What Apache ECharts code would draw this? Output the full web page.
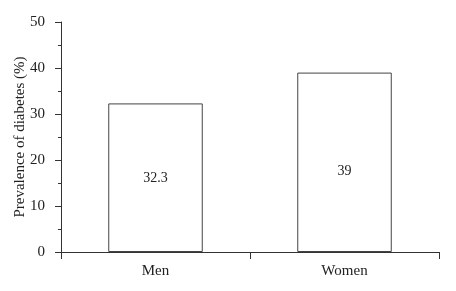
<!DOCTYPE html>
<html><head><meta charset="utf-8">
<script src="https://cdn.jsdelivr.net/npm/echarts@6/dist/echarts.min.js"></script>
<style>html,body{margin:0;padding:0;background:#fff}#c{width:456px;height:291px}</style>
</head><body><div id="c"></div>
<script>
const categories = ["Men", "Women"];
const prevalence = [32.3, 39];
const valueLabels = ["32.3", "39"];
const yTicks = [0, 10, 20, 30, 40, 50];

const labelOffsets = [[0, 1], [0, 9]];
const F = "Liberation Serif";
const chart = echarts.init(document.getElementById('c'), null, {renderer: 'canvas'});
chart.setOption({
  animation: false,
  backgroundColor: '#fff',
  grid: {left: 61, right: 17, top: 22, bottom: 39, containLabel: false, outerBoundsMode: 'none'},
  xAxis: {
    type: 'category', data: categories, boundaryGap: true,
    axisLine: {lineStyle: {color: '#333', width: 1}},
    axisTick: {show: true, length: 7, inside: false, alignWithLabel: false, lineStyle: {color: '#333'}},
    axisLabel: {color: '#222', fontFamily: F, fontSize: 15, margin: 12}
  },
  yAxis: {
    type: 'value', min: yTicks[0], max: yTicks[yTicks.length - 1], interval: 10,
    name: 'Prevalence of diabetes (%)', nameLocation: 'middle', nameGap: 33, nameMoveOverlap: false,
    nameTextStyle: {color: '#222', fontFamily: F, fontSize: 15},
    splitLine: {show: false},
    axisLine: {show: true, lineStyle: {color: '#333', width: 1}},
    axisTick: {show: true, length: 6, lineStyle: {color: '#333'}},
    minorTick: {show: true, splitNumber: 2, length: 3, lineStyle: {color: '#333'}},
    axisLabel: {color: '#222', fontFamily: F, fontSize: 15, margin: 16}
  },
  series: [{
    type: 'bar', barWidth: '50%',
    data: prevalence.map((v, i) => ({
      value: v,
      label: {show: true, position: 'inside', offset: labelOffsets[i], formatter: valueLabels[i],
        color: '#222', fontFamily: F, fontSize: 14}
    })),
    itemStyle: {color: '#fff', borderColor: '#444', borderWidth: 1}
  }]
});
</script></body></html>
